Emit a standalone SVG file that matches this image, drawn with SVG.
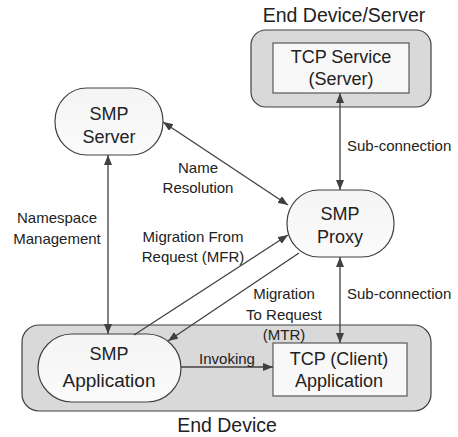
<svg xmlns="http://www.w3.org/2000/svg" width="458" height="437" viewBox="0 0 458 437">
  <defs>
    <marker id="arrow" viewBox="0 0 10 8" refX="10" refY="4" markerWidth="10" markerHeight="8" markerUnits="userSpaceOnUse" orient="auto-start-reverse">
      <path d="M0,0 L10,4 L0,8 z" fill="#404040"/>
    </marker>
    <linearGradient id="nodeFill" x1="0" y1="0" x2="0" y2="1">
      <stop offset="0" stop-color="#f4f4f4"/>
      <stop offset="1" stop-color="#fbfbfb"/>
    </linearGradient>
  </defs>
  <style>
    .device { fill: #d9d9d9; stroke: #404040; stroke-width: 1.2; }
    .node { fill: url(#nodeFill); stroke: #404040; stroke-width: 1.2; }
    .box { fill: #f8f8f8; stroke: #595959; stroke-width: 1.2; }
    .link { stroke: #404040; stroke-width: 1.3; fill: none; }
    text { font-family: "Liberation Sans", Arial, sans-serif; fill: #222; }
    .title { font-size: 19.5px; text-anchor: middle; }
    .name { font-size: 18px; text-anchor: middle; }
    .label { font-size: 15px; }
    .mid { text-anchor: middle; }
  </style>

  <rect width="458" height="437" fill="#ffffff"/>

  <!-- End Device / Server container -->
  <g id="end-device-server">
    <rect class="device" x="251" y="30" width="180" height="77" rx="15" ry="15"/>
    <text class="title" x="344" y="22">End Device/Server</text>
  </g>

  <g id="tcp-service">
    <rect class="box" x="273" y="43" width="136" height="50"/>
    <text class="name" x="341" y="63">TCP Service</text>
    <text class="name" x="341" y="85">(Server)</text>
  </g>

  <!-- End Device container -->
  <g id="end-device">
    <rect class="device" x="22" y="325" width="409" height="86" rx="17" ry="17"/>
    <text class="title" x="227" y="432">End Device</text>
  </g>

  <g id="smp-server">
    <rect class="node" x="55" y="88" width="108" height="67" rx="32" ry="33"/>
    <text class="name" x="109" y="120">SMP</text>
    <text class="name" x="109" y="143">Server</text>
  </g>

  <g id="smp-proxy">
    <rect class="node" x="287" y="190" width="107" height="67" rx="32" ry="33"/>
    <text class="name" x="340" y="220">SMP</text>
    <text class="name" x="340" y="243">Proxy</text>
  </g>

  <g id="smp-application">
    <rect class="node" x="38" y="334" width="143" height="68" rx="34" ry="34"/>
    <text class="name" x="109" y="360">SMP</text>
    <text class="name" x="109" y="387" style="font-size:19px">Application</text>
  </g>

  <g id="tcp-client">
    <rect class="box" x="273" y="343" width="134" height="53"/>
    <text class="name" x="339" y="365">TCP (Client)</text>
    <text class="name" x="339" y="387">Application</text>
  </g>

  <!-- Connectors -->
  <g id="connectors">
    <line class="link" x1="340" y1="93" x2="340" y2="190" marker-start="url(#arrow)" marker-end="url(#arrow)"/>
    <line class="link" x1="163" y1="122" x2="288" y2="205" marker-start="url(#arrow)" marker-end="url(#arrow)"/>
    <line class="link" x1="108" y1="155" x2="108" y2="334" marker-start="url(#arrow)" marker-end="url(#arrow)"/>
    <line class="link" x1="134" y1="335" x2="288" y2="235" marker-end="url(#arrow)"/>
    <line class="link" x1="299" y1="253" x2="168" y2="341" marker-end="url(#arrow)"/>
    <line class="link" x1="340" y1="257" x2="340" y2="343" marker-start="url(#arrow)" marker-end="url(#arrow)"/>
    <line class="link" x1="181" y1="367" x2="273" y2="367" marker-end="url(#arrow)"/>

    <text class="label" x="347" y="151">Sub-connection</text>
    <text class="label mid" x="198" y="173">Name</text>
    <text class="label mid" x="198" y="193">Resolution</text>
    <text class="label mid" x="57" y="223">Namespace</text>
    <text class="label mid" x="57" y="244">Management</text>
    <text class="label mid" x="193" y="242">Migration From</text>
    <text class="label mid" x="193" y="262">Request (MFR)</text>
    <text class="label mid" x="284" y="299">Migration</text>
    <text class="label mid" x="284" y="320">To Request</text>
    <text class="label mid" x="284" y="340">(MTR)</text>
    <text class="label" x="347" y="299">Sub-connection</text>
    <text class="label mid" x="227" y="364">Invoking</text>
  </g>
</svg>
